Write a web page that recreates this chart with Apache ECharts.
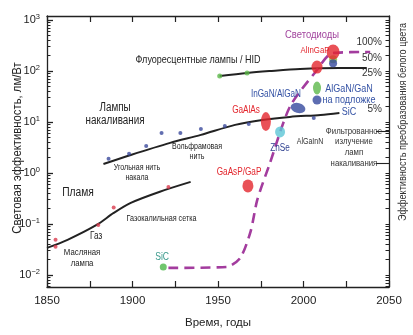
<!DOCTYPE html>
<html>
<head>
<meta charset="utf-8">
<script src="https://cdn.jsdelivr.net/npm/echarts@6/dist/echarts.min.js"></script>
<style>
  html, body { margin: 0; padding: 0; background: #fff; }
  #chart { width: 413px; height: 335px; }
</style>
</head>
<body>
<div id="chart"></div>
<script>
// Luminous efficacy of light sources (lm/W) against year, log scale.

// Flame sources
const flameYears = [1850, 1862, 1879, 1889, 1899, 1916, 1934];
const flameEfficacy = [0.034, 0.049, 0.096, 0.165, 0.26, 0.43, 0.67];
const flameSampleYears = [1855, 1855, 1880, 1889, 1921];
const flameSampleEfficacy = [0.049, 0.036, 0.096, 0.21, 0.53];

// Incandescent lamps
const incandYears = [1883, 1899, 1922, 1940, 1960, 1976, 1992, 2010, 2021];
const incandEfficacy = [1.5, 2.26, 3.9, 5.6, 8.8, 11.0, 12.6, 13.8, 15.1];
const incandSampleYears = [1886, 1898, 1908, 1917, 1928, 1940, 1954, 1968, 2006];
const incandSampleEfficacy = [1.9, 2.4, 3.4, 6.1, 6.1, 7.3, 8.4, 9.2, 12.0];

// Fluorescent / HID lamps
const fluorYears = [1951, 1967, 1980, 1998, 2021, 2037];
const fluorEfficacy = [80, 92, 100, 110, 115, 115];
const fluorSampleYears = [1951, 1967];
const fluorSampleEfficacy = [80, 92];

// LED trend (dashed)
const ledTrendYears = [1921, 1955, 1963, 1969, 1973, 1980, 1992, 2007, 2017, 2039];
const ledTrendEfficacy = [0.0138, 0.0144, 0.0216, 0.070, 0.30, 1.44, 19.8, 96, 226, 237];

// Individual LED material systems
const ledIds = ['SiC', 'GaAsP/GaP', 'GaAlAs', 'ZnSe', 'InGaN/AlGaN', 'AlGaN/GaN', 'AlGaN/GaN-SiC',
                'AlInGaP-a', 'green-b', 'blue-b', 'AlInGaP-b'];
const ledYears = [1918, 1967.5, 1978, 1986.3, 1996.8, 2007.9, 2007.9, 2007.9, 2017.3, 2017.3, 2017.3];
const ledEfficacy = [0.0144, 0.56, 10.2, 6.4, 18.9, 46.6, 27.1, 120, 170, 143, 237];

// Axis ticks
const xLabelYears = [1850, 1900, 1950, 2000, 2050];
const decadeValues = [0.01, 0.1, 1, 10, 100, 1000];
const decadeExponents = ['\u22122', '\u22121', '0', '1', '2', '3'];
const shareLabels = ['100%', '50%', '25%', '5%'];
const shareValues = [100, 50, 25, 5];
const WHITE_LIMIT = 363;             // lm/W corresponding to 100 %
const filteredRange = [6.7, 1.58];   // lm/W bracket of filtered incandescent light

// Annotations placed in data coordinates
const noteText = ['Флуоресцентные лампы / HID', 'Лампы\nнакаливания', 'Пламя', 'Газ', 'Масляная\nлампа',
  'Газокалильная сетка', 'Угольная нить\nнакала', 'Вольфрамовая\nнить', 'Светодиоды', 'AlInGaP',
  'InGaN/AlGaN', 'GaAlAs', 'GaAsP/GaP', 'ZnSe', 'AlGaInN', 'AlGaN/GaN\nна подложке\nSiC',
  'Фильтрованное\nизлучение\nламп\nнакаливания', 'SiC'];
const noteYears = [1938.3, 1889.8, 1868.1, 1878.7, 1870.5, 1917, 1902.6, 1937.7, 2005, 2006.7,
  1983.9, 1966.4, 1962.3, 1986.3, 2003.8, 2026.6, 2029.5, 1917.3];
const noteEfficacy = [165, 14.4, 0.41, 0.058, 0.0216, 0.126, 1.0, 2.59, 509, 259,
  35.6, 17.3, 1.05, 3.1, 4.06, 27.1, 3.24, 0.0226];

const FONT = "'Liberation Sans', Arial, sans-serif";
const NARROW = 0.82;   // horizontal squeeze giving a condensed face
const RED = '#e3262d', BLUE = '#34489e', GREEN = '#5cb84a', INK = '#222';

const ledStyle = {
  'SiC': { color: '#4cb848', size: [7, 7] },
  'GaAsP/GaP': { color: RED, size: [11, 13] },
  'GaAlAs': { color: RED, size: [10, 19] },
  'ZnSe': { color: '#5cc6d6', size: [10, 11] },
  'InGaN/AlGaN': { color: BLUE, size: [15, 10], rotate: -15 },
  'AlGaN/GaN': { color: GREEN, size: [8, 13] },
  'AlGaN/GaN-SiC': { color: BLUE, size: [9, 9] },
  'AlInGaP-a': { color: RED, size: [11, 13] },
  'green-b': { color: '#8cc43c', size: [8, 8] },
  'blue-b': { color: BLUE, size: [8, 8] },
  'AlInGaP-b': { color: RED, size: [13, 15] }
};
const noteStyle = [
  { size: 11 }, { size: 12, lh: 12.5 }, { size: 12.5 }, { size: 10 }, { size: 9.5, lh: 10.5 },
  { size: 8.8 }, { size: 8.6, lh: 10 }, { size: 8.6, lh: 10 }, { size: 11.5, color: '#a2459e' },
  { size: 9.5, color: RED }, { size: 10, color: '#3553a5' }, { size: 10, color: RED },
  { size: 10, color: RED }, { size: 10, color: '#2d3f8f' }, { size: 8.6, color: '#333' },
  { size: 11, color: '#3553a5', lh: 11.5 }, { size: 9.5, color: '#333', lh: 10.7 },
  { size: 10.5, color: '#3a9a8c' }
];

const lg = v => Math.log10(v);
const Y_MIN = -2.235, Y_MAX = 3.08;
const inRange = v => lg(v) >= Y_MIN - 1e-9 && lg(v) <= Y_MAX + 1e-9;
const minorValues = [];
decadeValues.concat([0.001]).forEach(d => {
  for (let k = 2; k <= 9; k++) { const v = d * k; if (inRange(v)) minorValues.push(v); }
});
const pairs = (xs, ys) => xs.map((x, i) => [x, lg(ys[i])]);

const curve = (xs, ys, style, smooth) => ({
  type: 'line', data: pairs(xs, ys), showSymbol: false, smooth: smooth,
  lineStyle: style, silent: true, z: 2
});
const dots = (xs, ys, color, size) => ({
  type: 'scatter', data: pairs(xs, ys), symbolSize: size, itemStyle: { color: color },
  silent: true, z: 3
});

const axisLine = { show: true, onZero: false, lineStyle: { color: INK, width: 1.3 } };
const baseY = { type: 'value', min: Y_MIN, max: Y_MAX, splitLine: { show: false } };
const shareLevels = shareValues.map(p => lg(p / 100 * WHITE_LIMIT));

const chart = echarts.init(document.getElementById('chart'), null, { renderer: 'canvas' });
chart.setOption({
  animation: false,
  backgroundColor: '#fff',
  textStyle: { fontFamily: FONT },
  grid: { left: 47, right: 24, top: 16, bottom: 48, containLabel: false, outerBoundsMode: 'none' },
  xAxis: [{
    type: 'value', min: 1850, max: 2050, interval: 25, position: 'bottom',
    axisLine: axisLine, splitLine: { show: false },
    axisTick: { inside: true, length: 6, lineStyle: { color: INK, width: 1.2 } },
    axisLabel: { customValues: xLabelYears, formatter: v => String(v), margin: 8, fontSize: 11.5, color: INK, fontFamily: FONT },
    name: 'Время, годы', nameLocation: 'middle', nameGap: 30,
    nameTextStyle: { fontSize: 11.5, color: INK, fontFamily: FONT }
  }, {
    type: 'value', min: 1850, max: 2050, interval: 25, position: 'top',
    axisLine: axisLine, splitLine: { show: false },
    axisTick: { inside: true, length: 6, lineStyle: { color: INK, width: 1.2 } },
    axisLabel: { show: false }
  }],
  yAxis: [
    Object.assign({}, baseY, {
      position: 'left', axisLine: axisLine,
      axisTick: { inside: true, length: 6, customValues: decadeValues.map(lg), lineStyle: { color: INK, width: 1.3 } },
      axisLabel: {
        customValues: decadeValues.map(lg), margin: 7,
        formatter: v => '{b|10}{s|' + decadeExponents[decadeValues.map(lg).findIndex(d => Math.abs(d - v) < 1e-6)] + '}',
        rich: {
          b: { fontSize: 11, color: INK, fontFamily: FONT },
          s: { fontSize: 7.5, color: INK, fontFamily: FONT, verticalAlign: 'top', padding: [0, 0, 6, 0] }
        }
      }
    }),
    Object.assign({}, baseY, {
      position: 'left', axisLine: { show: false },
      axisTick: { inside: true, length: 3.5, customValues: minorValues.map(lg), lineStyle: { color: INK, width: 1 } },
      axisLabel: { show: false }
    }),
    Object.assign({}, baseY, {
      position: 'right', axisLine: axisLine,
      axisTick: { inside: true, length: 3.5, customValues: minorValues.concat(decadeValues).map(lg), lineStyle: { color: INK, width: 1 } },
      axisLabel: {
        inside: true, margin: 7, customValues: shareLevels,
        formatter: v => shareLabels[shareLevels.findIndex(d => Math.abs(d - v) < 1e-6)],
        fontSize: 10, color: '#333', fontFamily: FONT
      }
    }),
    Object.assign({}, baseY, {
      position: 'right', axisLine: { show: false },
      axisTick: { inside: true, length: 13, customValues: filteredRange.map(lg), lineStyle: { color: INK, width: 1.1 } },
      axisLabel: { show: false }
    })
  ],
  series: [
    curve(flameYears, flameEfficacy, { color: INK, width: 2 }, 0.3),
    curve(incandYears, incandEfficacy, { color: INK, width: 2 }, 0.3),
    curve(fluorYears, fluorEfficacy, { color: INK, width: 2 }, 0.3),
    curve(ledTrendYears, ledTrendEfficacy, { color: '#a33c9e', width: 2.6, type: [10, 6] }, 0.25),
    dots(flameSampleYears, flameSampleEfficacy, '#d93b4e', 4),
    dots(incandSampleYears, incandSampleEfficacy, '#3b4a9c', 4),
    dots(fluorSampleYears, fluorSampleEfficacy, GREEN, 5),
    {
      type: 'scatter', silent: true, z: 4,
      data: ledIds.map((id, i) => ({
        value: [ledYears[i], lg(ledEfficacy[i])],
        symbolSize: ledStyle[id].size,
        symbolRotate: ledStyle[id].rotate || 0,
        itemStyle: { color: ledStyle[id].color }
      }))
    }
  ]
});

// Condensed text annotations, positioned through the chart's own coordinate system
const notes = noteText.map((t, i) => {
  const p = chart.convertToPixel({ xAxisIndex: 0, yAxisIndex: 0 }, [noteYears[i], lg(noteEfficacy[i])]);
  const s = noteStyle[i];
  return {
    type: 'text', x: p[0], y: p[1], scaleX: NARROW, z: 10, silent: true,
    style: {
      text: t, fontSize: s.size, fontFamily: FONT, fill: s.color || INK,
      align: 'center', verticalAlign: 'middle', lineHeight: s.lh || Math.round(s.size * 1.2)
    }
  };
});
const titles = [
  { text: 'Световая эффективность, лм/Вт', x: 17, y: 148, size: 13, scale: 0.87, fill: INK },
  { text: 'Эффективность преобразования белого цвета', x: 403, y: 122, size: 11, scale: 0.83, fill: '#333' }
].map(t => ({
  type: 'text', x: t.x, y: t.y, rotation: Math.PI / 2, scaleX: t.scale, silent: true,
  style: { text: t.text, fontSize: t.size, fontFamily: FONT, fill: t.fill, align: 'center', verticalAlign: 'middle' }
}));
chart.setOption({ graphic: notes.concat(titles) });
</script>
</body>
</html>
